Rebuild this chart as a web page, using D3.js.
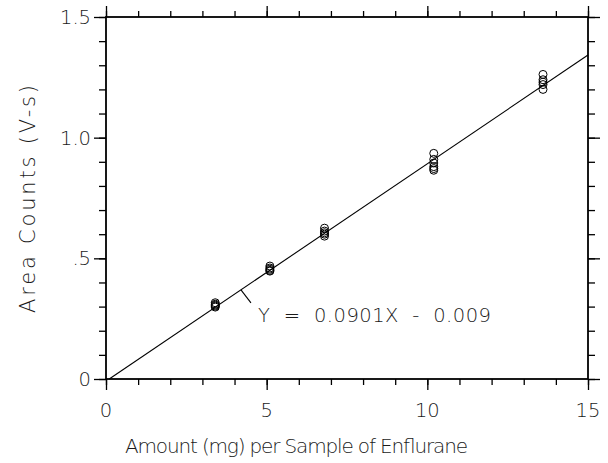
<!DOCTYPE html>
<html><head><meta charset="utf-8">
<script src="https://cdn.jsdelivr.net/npm/d3@7"></script>
<style>html,body{margin:0;padding:0;background:#fff;}svg{display:block;}</style>
</head><body>
<script>
const amounts = [3.4, 5.1, 6.8, 10.2, 13.6];
const areaCounts = [
  [0.298, 0.302, 0.306, 0.31, 0.316],
  [0.447, 0.45, 0.455, 0.46, 0.468],
  [0.592, 0.6, 0.606, 0.613, 0.625],
  [0.865, 0.872, 0.88, 0.895, 0.91, 0.935],
  [1.2, 1.22, 1.23, 1.24, 1.262]
];
const slope = 0.0901, intercept = -0.009;
const xTicks = [0, 5, 10, 15];
const xTickLabels = ["0", "5", "10", "15"];
const yTicks = [0, 0.5, 1.0, 1.5];
const yTickLabels = ["0", ".5", "1.0", "1.5"];
const xTitle = "Amount (mg) per Sample of Enflurane";
const yTitle = "Area Counts (V-s)";
const eqLabel = "Y  =  0.0901X  -  0.009";

const W = 608, H = 463;
const m = {l: 106, r: 20, t: 17, b: 84};
const svg = d3.select("body").append("svg").attr("width", W).attr("height", H);
const x = d3.scaleLinear().domain([0, 15]).range([m.l, W - m.r]);
const y = d3.scaleLinear().domain([0, 1.5]).range([H - m.b, m.t]);
const font = "'DejaVu Sans', 'Liberation Sans', sans-serif";
const txtCol = "#1a1a1a";
const fw = 200;

function axis(gen, transform, ticks, size) {
  const g = svg.append("g").attr("transform", transform)
    .call(gen.tickValues(ticks).tickSize(size).tickFormat(""));
  g.select(".domain").remove();
  g.selectAll("line").attr("stroke", "#000").attr("stroke-width", 1.3);
  return g;
}
const xMinor = d3.range(0, 15.001, 1);
const yMinor = d3.range(0, 1.5001, 0.1).map(v => +v.toFixed(2));
axis(d3.axisBottom(x), `translate(0,${y(0)})`, xMinor, 6);
axis(d3.axisBottom(x), `translate(0,${y(0)})`, xTicks, 11);
axis(d3.axisTop(x), `translate(0,${y(1.5)})`, xMinor, 6);
axis(d3.axisTop(x), `translate(0,${y(1.5)})`, xTicks, 11);
axis(d3.axisLeft(y), `translate(${x(0)},0)`, yMinor, 7);
axis(d3.axisLeft(y), `translate(${x(0)},0)`, yTicks, 12);
axis(d3.axisRight(y), `translate(${x(15)},0)`, yMinor, 7);
axis(d3.axisRight(y), `translate(${x(15)},0)`, yTicks, 12);

svg.append("rect").attr("x", x(0)).attr("y", y(1.5))
  .attr("width", x(15) - x(0)).attr("height", y(0) - y(1.5))
  .attr("fill", "none").attr("stroke", "#000").attr("stroke-width", 1.8);

function txt(sel, size) {
  return sel.attr("font-family", font).attr("font-size", size || 19.5)
    .attr("font-weight", fw).attr("fill", txtCol);
}
txt(svg.append("g").selectAll("text").data(xTicks).join("text")
  .attr("x", d => x(d)).attr("y", y(0) + 38)
  .attr("text-anchor", "middle").text((d, i) => xTickLabels[i]));
txt(svg.append("g").selectAll("text").data(yTicks).join("text")
  .attr("x", x(0) - 15).attr("y", d => y(d) + 7)
  .attr("text-anchor", "end").text((d, i) => yTickLabels[i]));

txt(svg.append("text").attr("x", 125).attr("y", 453)
  .attr("textLength", 343).attr("lengthAdjust", "spacing").text(xTitle), 20);
txt(svg.append("text").attr("transform", "translate(35,313) rotate(-90)")
  .attr("textLength", 228).attr("lengthAdjust", "spacing").text(yTitle), 21);

const x0 = -intercept / slope;
svg.append("line")
  .attr("x1", x(x0)).attr("y1", y(slope * x0 + intercept))
  .attr("x2", x(15)).attr("y2", y(slope * 15 + intercept))
  .attr("stroke", "#000").attr("stroke-width", 1.1);

const pts = [];
amounts.forEach((a, i) => areaCounts[i].forEach(v => pts.push([a, v])));
svg.append("g").selectAll("circle").data(pts).join("circle")
  .attr("cx", d => x(d[0])).attr("cy", d => y(d[1])).attr("r", 4)
  .attr("fill", "none").attr("stroke", "#000").attr("stroke-width", 1);

const lx = 4.2;
svg.append("line")
  .attr("x1", x(lx)).attr("y1", y(slope * lx + intercept))
  .attr("x2", x(lx) + 10).attr("y2", y(slope * lx + intercept) + 13)
  .attr("stroke", "#000").attr("stroke-width", 1.1);
txt(svg.append("text").attr("x", 258).attr("y", 322)
  .attr("textLength", 233).attr("lengthAdjust", "spacing")
  .attr("xml:space", "preserve").style("white-space", "pre").text(eqLabel));
</script>
</body></html>
